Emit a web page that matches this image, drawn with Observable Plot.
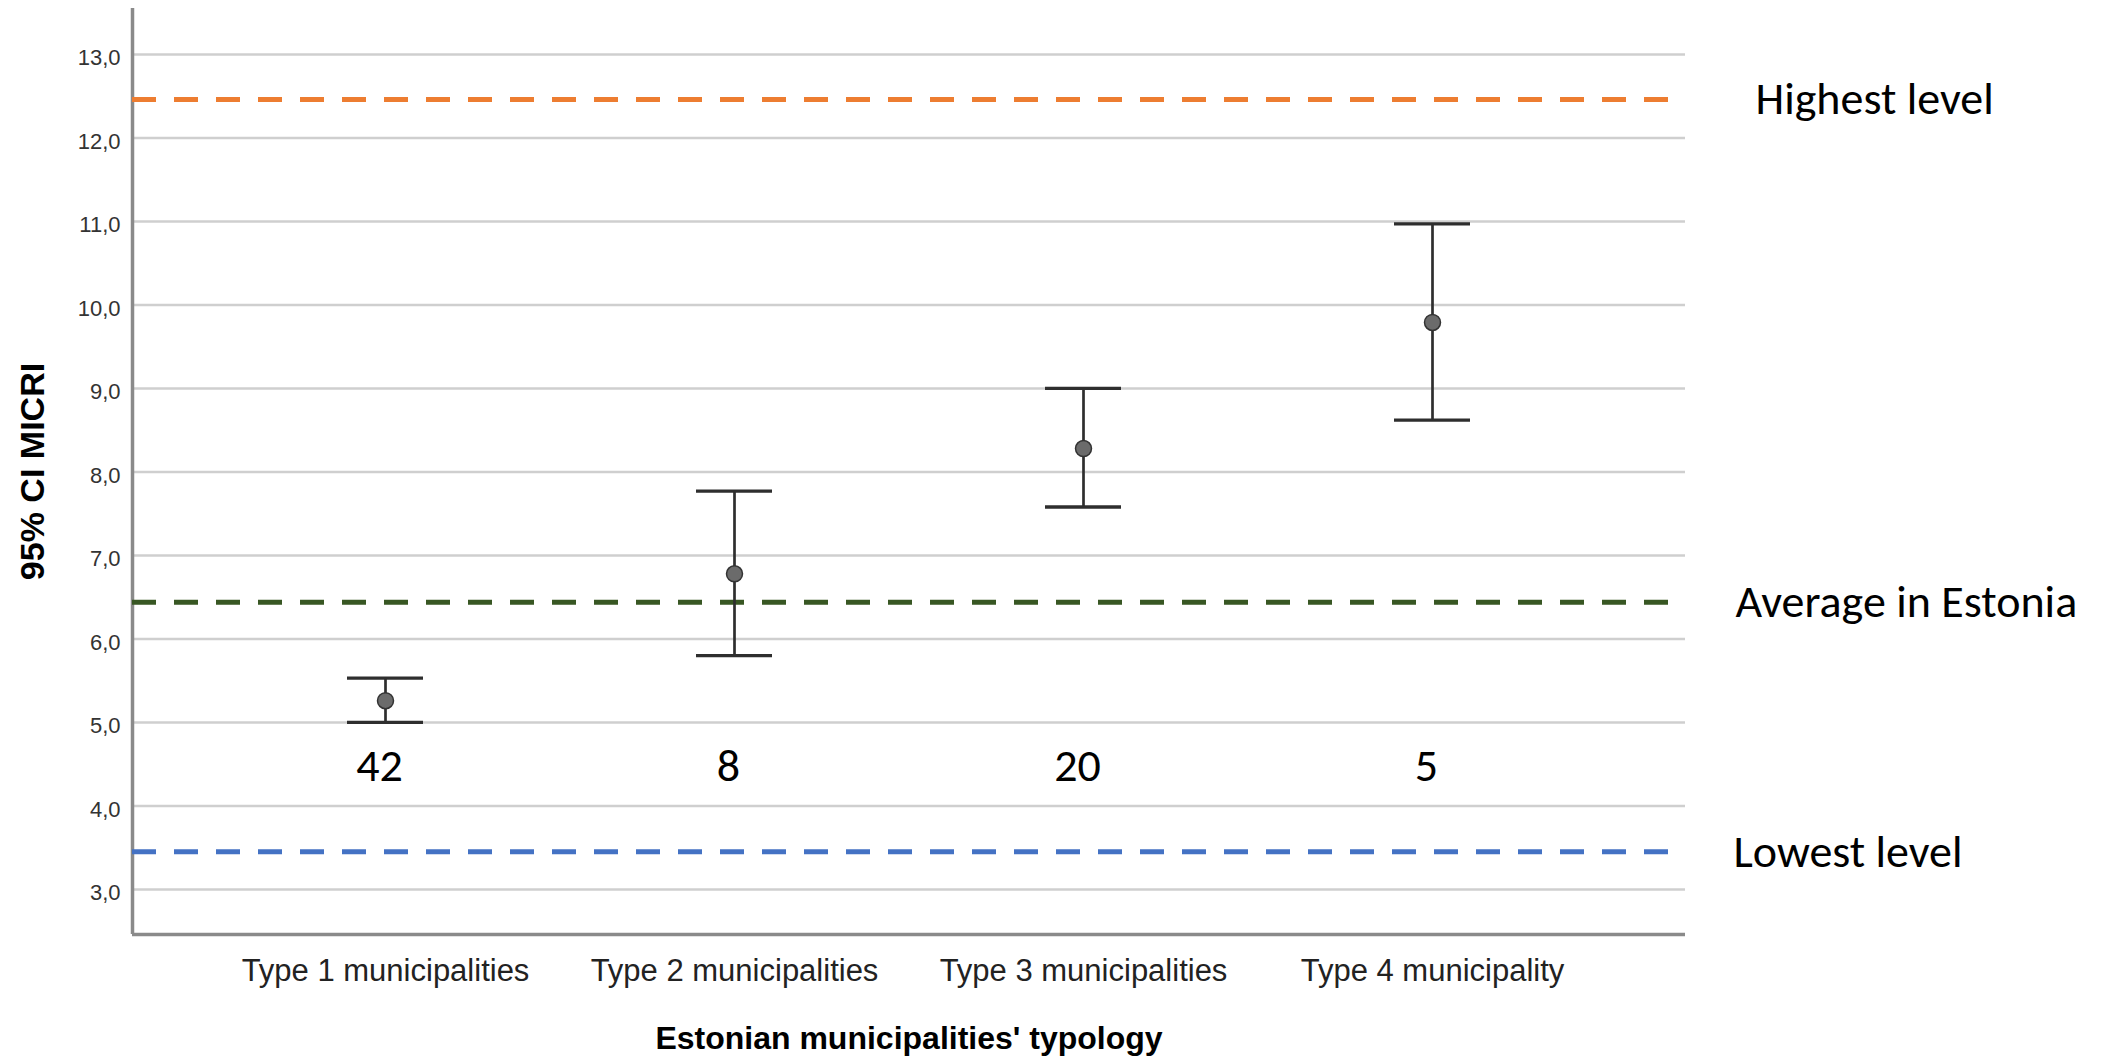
<!DOCTYPE html>
<html>
<head>
<meta charset="utf-8">
<script src="https://cdn.jsdelivr.net/npm/d3@7"></script>
<script src="https://cdn.jsdelivr.net/npm/@observablehq/plot@0.6"></script>
<style>
  html, body { margin: 0; padding: 0; background: #ffffff; }
  svg { display: block; }
</style>
</head>
<body>
<div id="chart"></div>
<script>
// ---- data ----
const categories = ["Type 1 municipalities", "Type 2 municipalities", "Type 3 municipalities", "Type 4 municipality"];
const means = [5.26, 6.78, 8.28, 9.79];
const lowerCI = [5.00, 5.80, 7.58, 8.62];
const upperCI = [5.53, 7.77, 9.00, 10.97];
const counts = [42, 8, 20, 5];
const refLabels = ["Highest level", "Average in Estonia", "Lowest level"];
const refValues = [12.46, 6.44, 3.45];
const yTicks = [3, 4, 5, 6, 7, 8, 9, 10, 11, 12, 13];

const rows = categories.map((c, i) => ({cat: c, mean: means[i], lo: lowerCI[i], hi: upperCI[i], n: counts[i]}));
const refs = refLabels.map((l, i) => ({label: l, value: refValues[i]}));
const refColors = ["#ED7D31", "#385723", "#4472C4"];
const refOffsets = [70, 50, 48];

// layout
const W = 2121, H = 1058, mL = 132, mR = 436, mT = 8, mB = 124;
const yDomain = [2.46, 13.55];
const fmt = d => d.toFixed(1).replace(".", ",");
const calibri = "Carlito, Calibri, Lato, 'Open Sans', sans-serif";
const axisGray = "#8a8a8a";

const marks = [
  Plot.gridY(yTicks, {stroke: "#cfcfcf", strokeOpacity: 1, strokeWidth: 2.5}),
  Plot.axisY({ticks: yTicks, tickFormat: fmt, tickSize: 0, tickPadding: 12, fontSize: 22, fill: "#333", dy: 4, label: null}),
  Plot.axisX({tickSize: 0, tickPadding: 24, fontSize: 31, fill: "#222", label: null}),
  Plot.ruleY([yDomain[0]], {stroke: axisGray, strokeWidth: 3.5}),
  // left axis line (rule with no x channel sits at frame centre; shift to the left edge)
  Plot.ruleX([0], {x: null, y1: yDomain[0], y2: yDomain[1], dx: -((W - mL - mR) / 2), stroke: axisGray, strokeWidth: 3.5})
];

refs.forEach((r, i) => {
  marks.push(Plot.ruleY([r], {y: "value", stroke: refColors[i], strokeWidth: 5, strokeDasharray: "24,18"}));
  marks.push(Plot.text([r], {y: "value", text: "label", frameAnchor: "right", textAnchor: "start", dx: refOffsets[i],
    fontFamily: calibri, fontSize: 46, fill: "#000"}));
});

marks.push(
  Plot.ruleX(rows, {x: "cat", y1: "lo", y2: "hi", stroke: "#2e2e2e", strokeWidth: 2.7}),
  Plot.tickY(rows, {x: "cat", y: "hi", stroke: "#2e2e2e", strokeWidth: 3.3}),
  Plot.tickY(rows, {x: "cat", y: "lo", stroke: "#2e2e2e", strokeWidth: 3.3}),
  Plot.dot(rows, {x: "cat", y: "mean", r: 8, fill: "#6b6b6b", stroke: "#333", strokeWidth: 1.5}),
  Plot.text(rows, {x: "cat", y: 4.47, text: d => String(d.n), dx: -6, fontFamily: calibri, fontSize: 46, fill: "#000"}),
  Plot.text(["Estonian municipalities' typology"], {frameAnchor: "bottom", dy: 114, fontSize: 32, fontWeight: "bold", fill: "#000"}),
  Plot.text(["95% CI MICRI"], {frameAnchor: "left", textAnchor: "middle", rotate: -90, dx: -99, fontSize: 34, fontWeight: "bold", fill: "#000"})
);

const chart = Plot.plot({
  width: W,
  height: H,
  marginLeft: mL,
  marginRight: mR,
  marginTop: mT,
  marginBottom: mB,
  style: {fontFamily: "'Liberation Sans', Arial, sans-serif", background: "#ffffff", overflow: "visible"},
  x: {type: "band", domain: categories, paddingInner: 0.7829, paddingOuter: 0.611, label: null},
  y: {domain: yDomain, label: null},
  marks
});
document.getElementById("chart").appendChild(chart);
</script>
</body>
</html>
